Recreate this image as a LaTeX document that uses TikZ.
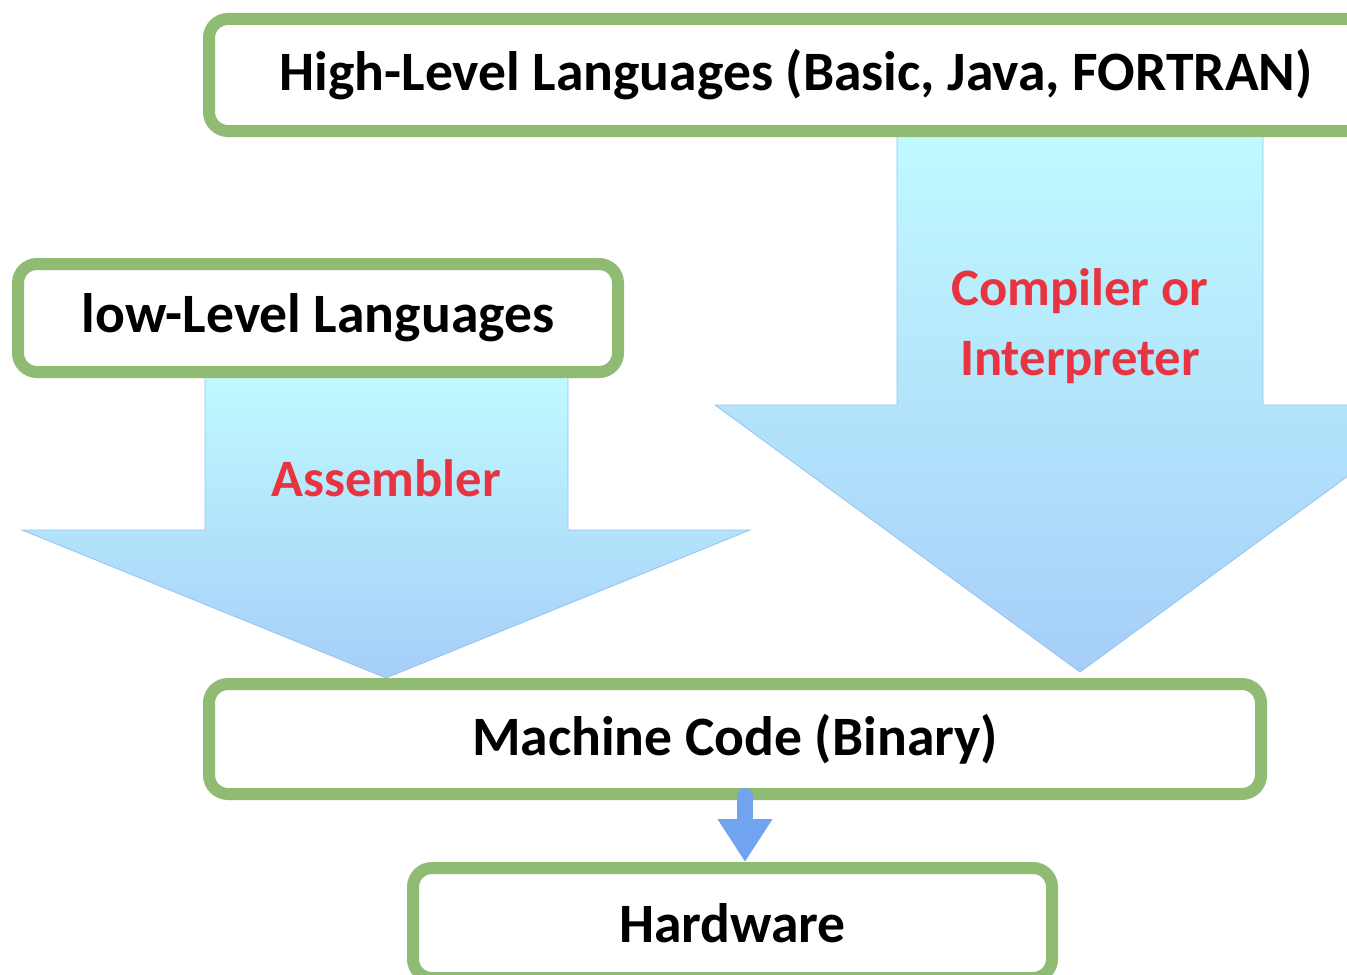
\documentclass[tikz,border=0pt]{standalone}
\usepackage{fontspec}
\setmainfont{Carlito}
\usetikzlibrary{arrows.meta}
\definecolor{vert}{RGB}{143,187,114}
\definecolor{rouge}{RGB}{232,52,64}
\definecolor{bleu}{RGB}{112,163,240}
\definecolor{cyanclair}{RGB}{192,250,255}
\definecolor{bleuclair}{RGB}{166,206,248}
\definecolor{bordfleche}{RGB}{150,195,240}

\begin{document}
\begin{tikzpicture}[x=0.5pt,y=-0.5pt, % 1 unite = 1 pixel de l'image
  boite/.style={draw=vert,line width=6pt,rounded corners=9.5pt,fill=white,inner sep=0pt,
    font=\fontsize{27.8}{32}\selectfont\bfseries},
  fleche/.style={draw=bordfleche,thin,top color=cyanclair,bottom color=bleuclair},
  texterouge/.style={text=rouge,align=center,font=\fontsize{26.3}{35}\selectfont\bfseries}]
\useasboundingbox (0,0) rectangle (1347,974); % le cadre de l'image
\path[fleche] (897,130)--(1263,130)--(1263,405)--(1445,405)--(1080,672)--(715,405)--(897,405)--cycle; % la grande fleche
\path[fleche] (205,372)--(568,372)--(568,530)--(750,530)--(386,678)--(22,530)--(205,530)--cycle; % la fleche de gauche
\node[texterouge] (compil) at (1080,326) {Compiler or\\Interpreter};
\node[texterouge] (assemb) at (386,478) {Assembler};
\node[boite,minimum width=587pt,minimum height=56pt] (haut) at (796,75) {High-Level Languages (Basic, Java, FORTRAN)};
\node[boite,minimum width=300pt,minimum height=54pt] (bas) at (318,318) {low-Level Languages};
\node[boite,minimum width=526pt,minimum height=55pt] (machine) at (735,739) {Machine Code (Binary)};
\node[boite,minimum width=319.5pt,minimum height=55pt] (hw) at (732.5,923) {Hardware};
\draw[bleu,line width=8pt,line cap=round,-{Triangle[width=26pt,length=21.5pt]},shorten >=0pt]
  ([xshift=5pt,yshift=2pt]machine.south) -- ([xshift=5pt]machine.south |- hw.north); % vers le materiel
\end{tikzpicture}
\end{document}
